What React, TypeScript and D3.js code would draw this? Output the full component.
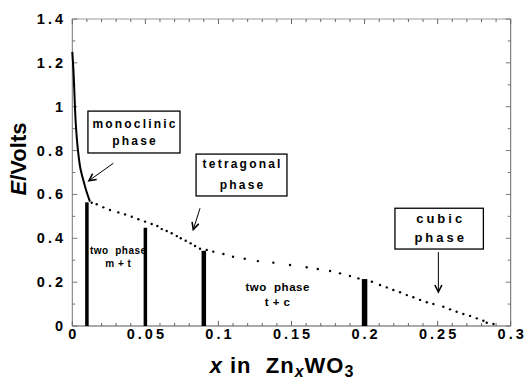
import React from 'react';
import * as d3 from 'd3';

// solid part of the discharge curve (x in ZnxWO3, E in volts)
const curveX = [0, 0.0004, 0.0009, 0.0014, 0.0024, 0.0039, 0.0058, 0.0075, 0.0094, 0.0121];
const curveE = [1.25, 1.21, 1.15, 1.07, 0.92, 0.80, 0.71, 0.666, 0.62, 0.567];

// dotted part (measured points)
const dotX = [0.0133, 0.0167, 0.0212, 0.0258, 0.0315, 0.0361, 0.0407, 0.0452, 0.0498, 0.0543, 0.0582,
  0.0612, 0.0646, 0.068, 0.0715, 0.0742, 0.0776, 0.081, 0.084, 0.0874, 0.092, 0.0965, 0.1034, 0.110,
  0.118, 0.127, 0.1376, 0.149, 0.1604, 0.168, 0.1764, 0.1832, 0.190, 0.1958, 0.205, 0.2106, 0.2152,
  0.2197, 0.2243, 0.2289, 0.2334, 0.238, 0.2426, 0.2471, 0.2539, 0.2585, 0.263, 0.2676, 0.2722,
  0.2768, 0.2813, 0.2836, 0.2882];
const dotE = [0.562, 0.555, 0.541, 0.529, 0.518, 0.509, 0.498, 0.487, 0.476, 0.465, 0.456,
  0.442, 0.433, 0.423, 0.41, 0.40, 0.389, 0.377, 0.365, 0.352, 0.347, 0.339, 0.328, 0.316,
  0.307, 0.296, 0.289, 0.278, 0.268, 0.26, 0.251, 0.24, 0.228, 0.217, 0.202, 0.187, 0.176,
  0.164, 0.154, 0.141, 0.131, 0.119, 0.108, 0.10, 0.088, 0.076, 0.065, 0.055, 0.046,
  0.035, 0.024, 0.015, 0.009];

// phase boundary bars
const barX = [0.01, 0.05, 0.09, 0.2];
const barE = [0.564, 0.448, 0.343, 0.214];

const xTicks = [0, 0.05, 0.1, 0.15, 0.2, 0.25, 0.3];
const xTickLabels = ['0', '0.05', '0.1', '0.15', '0.2', '0.25', '0.3'];
const yTicks = [0, 0.2, 0.4, 0.6, 0.8, 1, 1.2, 1.4];
const yTickLabels = ['0', '0.2', '0.4', '0.6', '0.8', '1', '1.2', '1.4'];

// boxed labels: [x0, x1, Etop, Ebottom]
const boxes = [
  { lines: ['monoclinic', 'phase'], rect: [0.0107, 0.0737, 0.980, 0.789], base: [0.903, 0.825] },
  { lines: ['tetragonal', 'phase'], rect: [0.0847, 0.1469, 0.784, 0.593], base: [0.720, 0.625] },
  { lines: ['cubic', 'phase'], rect: [0.2208, 0.2813, 0.537, 0.351], base: [0.470, 0.383] },
];
// arrows [x1, E1, x2, E2]
const arrows = [
  [0.0281, 0.742, 0.0114, 0.663],
  [0.0874, 0.537, 0.0828, 0.44],
  [0.2505, 0.337, 0.2505, 0.155],
];
// two phase region labels
const regionLabels = [
  { lines: ['two  phase', 'm + t'], x: 0.0315, base: [0.328, 0.269] },
  { lines: ['two  phase', 't + c'], x: 0.1405, base: [0.160, 0.091] },
];

const W = 527, H = 381;
const FONT = '"Liberation Sans", Arial, Helvetica, sans-serif';
const barWidths = [3.5, 3.5, 4.5, 5.5];

const App = () => {
  const x = d3.scaleLinear().domain([0, 0.3]).range([72.3, 510.7]);
  const y = d3.scaleLinear().domain([0, 1.4]).range([326, 19]);

  const solid = d3.line<number>()
    .x((d, i) => x(curveX[i]))
    .y((d, i) => y(curveE[i]))
    .curve(d3.curveMonotoneY)(curveX);

  const minorX = d3.range(0, 31).map(i => i / 100);
  const minorY = d3.range(0, 15).map(i => i / 10);

  const arrowHead = (x1: number, y1: number, x2: number, y2: number, len: number, half: number) => {
    const a = Math.atan2(y2 - y1, x2 - x1);
    const p1 = [x2 - len * Math.cos(a) + half * Math.sin(a), y2 - len * Math.sin(a) - half * Math.cos(a)];
    const p2 = [x2 - len * Math.cos(a) - half * Math.sin(a), y2 - len * Math.sin(a) + half * Math.cos(a)];
    return `M${p1[0]},${p1[1]}L${x2},${y2}L${p2[0]},${p2[1]}`;
  };

  return (
    <svg width={W} height={H} style={{ position: 'absolute', left: 0, top: 0, background: '#fff' }}
      fontFamily={FONT}>
      {/* frame */}
      <line x1={x(0)} x2={x(0.3)} y1={y(1.4)} y2={y(1.4)} stroke="#999" />
      <line x1={x(0.3)} x2={x(0.3)} y1={y(1.4)} y2={y(0)} stroke="#666" />
      <line x1={x(0)} x2={x(0)} y1={y(1.4)} y2={y(0)} stroke="#777" />
      <line x1={x(0)} x2={x(0.3)} y1={y(0)} y2={y(0)} stroke="#555" />

      {/* ticks */}
      {minorX.map((t, i) => {
        const len = i % 5 === 0 ? 5 : 3;
        return (
          <g key={'xt' + i} stroke="#666">
            <line x1={x(t)} x2={x(t)} y1={y(0)} y2={y(0) - len} />
            <line x1={x(t)} x2={x(t)} y1={y(1.4)} y2={y(1.4) + len} />
          </g>
        );
      })}
      {minorY.map((t, i) => {
        const len = i % 2 === 0 ? 5 : 3;
        return (
          <g key={'yt' + i} stroke="#777">
            <line x1={x(0)} x2={x(0) + len} y1={y(t)} y2={y(t)} />
            <line x1={x(0.3)} x2={x(0.3) - len} y1={y(t)} y2={y(t)} />
          </g>
        );
      })}

      {/* tick labels */}
      {xTicks.map((t, i) => (
        <text key={'xl' + i} x={x(t) + 1.5} y={339} textAnchor="middle" fontSize={14.5}
          fontWeight="bold" letterSpacing={3}>{xTickLabels[i]}</text>
      ))}
      {yTicks.map((t, i) => (
        <text key={'yl' + i} x={66} y={y(t) + 5} textAnchor="end" fontSize={14.5}
          fontWeight="bold" letterSpacing={3}>{yTickLabels[i]}</text>
      ))}

      {/* axis titles */}
      <text transform={`translate(26,159) rotate(-90)`} textAnchor="middle" fontSize={22} fontWeight="bold">
        <tspan fontStyle="italic">E</tspan>/Volts
      </text>
      <text x={282} y={373} textAnchor="middle" fontSize={22} fontWeight="bold" letterSpacing={1}
        style={{ whiteSpace: 'pre' }}>
        <tspan fontStyle="italic">x</tspan> in  Zn<tspan fontStyle="italic" fontSize={16} dy={4}>x</tspan>
        <tspan dy={-4}>WO</tspan><tspan fontSize={16} dy={4}>3</tspan>
      </text>

      {/* bars */}
      {barX.map((b, i) => (
        <rect key={'b' + i} x={x(b) - barWidths[i] / 2} y={y(barE[i])} width={barWidths[i]}
          height={y(0) - y(barE[i])} fill="#000" />
      ))}

      {/* curve */}
      <path d={solid || ''} fill="none" stroke="#000" strokeWidth={2} />
      {dotX.map((d, i) => (
        <circle key={'d' + i} cx={x(d)} cy={y(dotE[i])} r={1.2} fill="#000" />
      ))}

      {/* boxed labels */}
      {boxes.map((b, i) => {
        const cx = (x(b.rect[0]) + x(b.rect[1])) / 2;
        const big = i === 2;
        return (
          <g key={'box' + i}>
            <rect x={x(b.rect[0])} y={y(b.rect[2])} width={x(b.rect[1]) - x(b.rect[0])}
              height={y(b.rect[3]) - y(b.rect[2])} fill="#fff" stroke="#000" strokeWidth={1.3} />
            {b.lines.map((l, j) => (
              <text key={j} x={cx + (big ? 1.5 : 1.1)} y={y(b.base[j])} textAnchor="middle"
                fontSize={big ? 13 : 12} fontWeight="bold" letterSpacing={big ? 3 : 2.2}>{l}</text>
            ))}
          </g>
        );
      })}

      {/* arrows */}
      {arrows.map((a, i) => {
        const [x1, y1, x2, y2] = [x(a[0]), y(a[1]), x(a[2]), y(a[3])];
        return (
          <g key={'a' + i} stroke="#000" fill="none" strokeWidth={1}>
            <line x1={x1} y1={y1} x2={x2} y2={y2} />
            <path d={arrowHead(x1, y1, x2, y2, 7, 3.5)} strokeWidth={1.6} />
          </g>
        );
      })}

      {/* two phase labels */}
      {regionLabels.map((r, i) => (
        <g key={'r' + i}>
          {r.lines.map((l, j) => (
            <text key={j} x={x(r.x)} y={y(r.base[j])} textAnchor="middle"
              fontSize={i === 0 ? 10 : 11.5} fontWeight="bold" letterSpacing={0.5}
              style={{ whiteSpace: 'pre' }}>{l}</text>
          ))}
        </g>
      ))}
    </svg>
  );
};

export default App;
